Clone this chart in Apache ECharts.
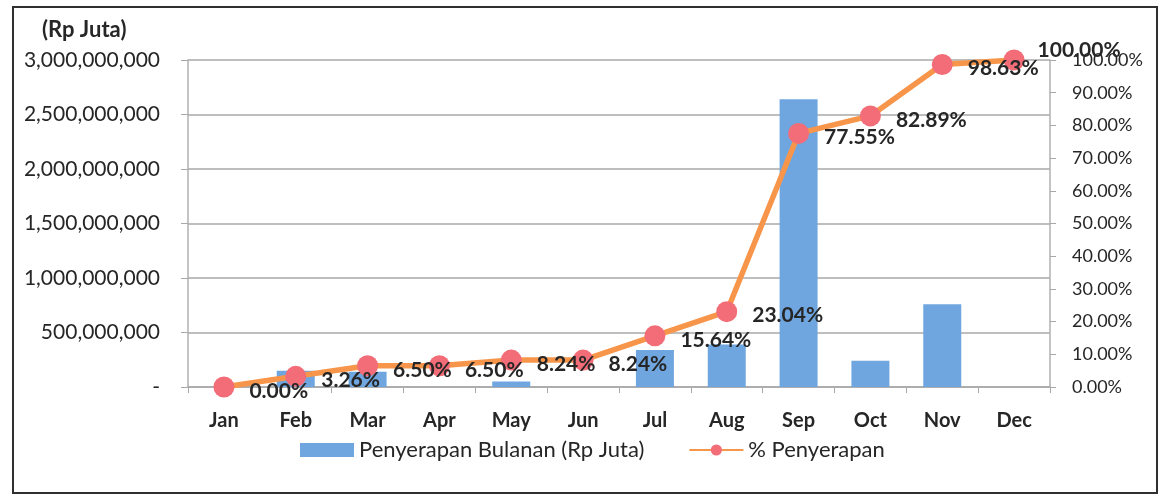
<!DOCTYPE html>
<html>
<head>
<meta charset="utf-8">
<script src="https://cdn.jsdelivr.net/npm/echarts@6/dist/echarts.min.js"></script>
<style>
html,body{margin:0;padding:0;background:#fff;}
#chart{width:1160px;height:499px;}
</style>
</head>
<body>
<div id="chart"></div>
<script>
var months = ['Jan','Feb','Mar','Apr','May','Jun','Jul','Aug','Sep','Oct','Nov','Dec'];
var monthlyAbsorption = [0, 150000000, 140000000, 0, 50000000, 0, 340000000, 390000000, 2640000000, 240000000, 760000000, 0];
var absorptionPct = [0.00, 3.26, 6.50, 6.50, 8.24, 8.24, 15.64, 23.04, 77.55, 82.89, 98.63, 100.00];
var barName = 'Penyerapan Bulanan (Rp Juta)';
var lineName = '% Penyerapan';
var unitLabel = '(Rp Juta)';

var FONT = 'Lato';
var TXT = '#262626';

var chart = echarts.init(document.getElementById('chart'), null, {renderer: 'canvas'});

var lineData = absorptionPct.map(function (v, i) {
  var item = {value: v};
  if (i === absorptionPct.length - 1) {
    item.label = {offset: [-2, -10]};
  }
  return item;
});

chart.setOption({
  animation: false,
  backgroundColor: '#ffffff',
  textStyle: {fontFamily: FONT, color: TXT},
  graphic: [
    {type: 'rect', shape: {x: 13, y: 7, width: 1144, height: 486},
     style: {fill: 'none', stroke: '#303030', lineWidth: 2}, silent: true},
    {type: 'text', left: 42, top: 19,
     style: {text: unitLabel, font: 'bold 22px ' + FONT, fill: TXT}}
  ],
  grid: {left: 188, right: 110, top: 60, bottom: 112, containLabel: false},
  legend: {
    bottom: 33,
    left: 295,
    itemWidth: 54,
    itemHeight: 14,
    itemGap: 44,
    textStyle: {fontFamily: FONT, fontSize: 22, color: TXT},
    data: [
      {name: barName, icon: 'rect'},
      {name: lineName}
    ]
  },
  xAxis: {
    type: 'category',
    data: months,
    boundaryGap: true,
    axisLine: {lineStyle: {color: '#a8a8a8', width: 1.5}},
    axisTick: {show: true, alignWithLabel: false, length: 6, lineStyle: {color: '#a8a8a8'}},
    axisLabel: {margin: 24, fontFamily: FONT, fontSize: 20, fontWeight: 'bold', color: TXT}
  },
  yAxis: [
    {
      type: 'value',
      min: 0, max: 3000000000, interval: 500000000,
      axisLine: {show: true, lineStyle: {color: '#b0b0b0', width: 1.5}},
      axisTick: {show: true, length: 7, lineStyle: {color: '#a8a8a8'}},
      splitLine: {show: true, lineStyle: {color: '#a8a8a8', width: 1.5}},
      axisLabel: {
        margin: 28, fontFamily: FONT, fontSize: 21, color: TXT,
        formatter: function (v) { return v === 0 ? '-' : v.toLocaleString('en-US'); }
      }
    },
    {
      type: 'value',
      min: 0, max: 100, interval: 10,
      position: 'right',
      axisLine: {show: true, lineStyle: {color: '#b0b0b0', width: 1.5}},
      axisTick: {show: true, length: 6, lineStyle: {color: '#a8a8a8'}},
      splitLine: {show: false},
      axisLabel: {
        margin: 22, align: 'left', fontFamily: FONT, fontSize: 18, color: TXT,
        formatter: function (v) { return v.toFixed(2) + '%'; }
      }
    }
  ],
  series: [
    {
      name: barName,
      type: 'bar',
      yAxisIndex: 0,
      data: monthlyAbsorption,
      barWidth: 38,
      itemStyle: {color: '#6fa6df'},
      z: 2
    },
    {
      name: lineName,
      type: 'line',
      yAxisIndex: 1,
      data: lineData,
      symbol: 'circle',
      symbolSize: 21,
      lineStyle: {color: '#f7964a', width: 5.5},
      itemStyle: {color: '#f26d78'},
      label: {
        show: true,
        position: 'right',
        distance: 15,
        offset: [0, 4],
        fontFamily: FONT,
        fontSize: 21,
        fontWeight: 'bold',
        color: TXT,
        formatter: function (p) { return p.value.toFixed(2) + '%'; }
      },
      z: 5
    }
  ]
});
</script>
</body>
</html>
